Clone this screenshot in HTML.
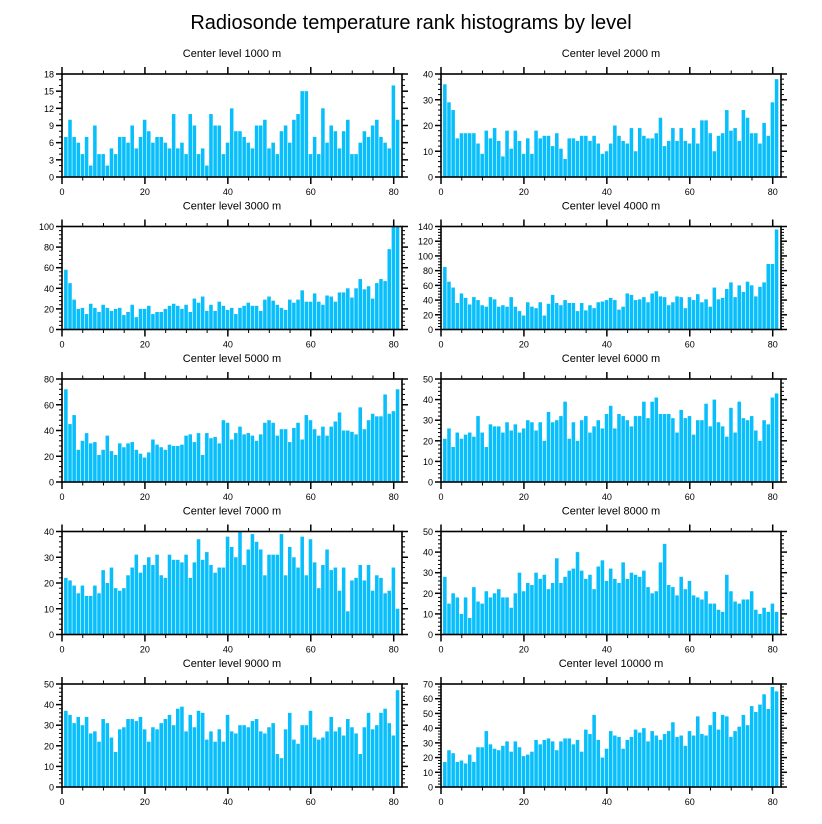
<!DOCTYPE html>
<html><head><meta charset="utf-8"><style>
body{margin:0;background:#fff;}
svg{display:block;font-family:"Liberation Sans",sans-serif;}
</style></head><body>
<svg id="chart" width="822" height="824" viewBox="0 0 822 824">
<text x="411" y="29" text-anchor="middle" font-size="20">Radiosonde temperature rank histograms by level</text>
</svg>
<script>
const levels = [1000,2000,3000,4000,5000,6000,7000,8000,9000,10000];
const yMaxes = [18,40,100,140,80,50,40,50,50,70];
const ySteps = [3,10,20,20,20,10,10,10,10,10];
const xTicks = [0,20,40,60,80];
const s1000 = [7,10,7,6,4,7,2,9,4,4,2,5,4,7,7,6,9,5,7,10,8,6,7,7,6,5,11,5,6,4,11,9,4,5,2,11,9,9,4,6,12,8,8,7,6,5,9,9,10,5,6,4,8,9,6,10,11,15,15,4,7,4,12,6,9,8,5,8,10,4,4,6,8,7,9,10,7,6,5,16,10];
const s2000 = [36,29,26,15,17,17,17,17,13,9,18,15,19,14,8,18,11,18,14,9,15,9,18,15,16,16,12,17,11,7,15,15,14,16,16,14,16,13,9,10,13,20,16,14,13,19,10,19,16,15,15,17,23,12,14,19,14,19,14,13,19,13,22,22,17,10,16,17,26,18,19,14,26,23,17,17,13,21,16,29,38];
const s3000 = [58,45,29,20,21,15,25,21,17,24,21,18,20,21,14,17,24,12,20,20,23,15,17,17,20,23,25,23,20,24,17,30,26,32,18,24,18,27,23,19,21,15,21,23,26,23,23,18,29,32,28,24,21,19,29,26,29,38,27,27,35,27,24,33,32,27,36,36,40,31,40,49,39,42,30,45,49,47,78,100,100].slice(0,81);
const s4000 = [85,65,57,36,49,43,34,44,40,33,31,44,41,31,33,31,44,31,25,19,37,31,29,37,19,35,47,36,33,40,36,36,25,36,26,33,29,37,38,40,43,40,27,31,49,47,40,41,44,37,49,52,45,44,33,37,45,44,29,44,40,48,37,41,31,57,41,43,55,64,44,60,51,65,60,45,58,64,89,89,136];
const s5000 = [72,45,52,25,32,38,30,31,21,25,36,24,21,30,27,30,31,25,22,19,23,33,29,27,25,29,28,28,29,36,37,31,38,21,38,34,35,30,48,46,33,38,43,37,38,36,32,37,46,48,46,36,41,41,31,42,46,33,52,48,41,36,43,36,43,47,54,40,40,39,37,58,41,48,53,51,51,68,53,55,72];
const s6000 = [21,26,17,24,21,23,24,22,32,24,17,28,27,27,24,29,25,28,24,26,30,29,25,29,20,34,29,30,32,39,21,29,20,30,32,24,27,30,26,33,37,26,33,32,30,27,32,32,39,31,39,41,33,33,33,31,24,35,31,32,23,30,30,38,27,40,29,27,22,36,24,39,31,30,32,25,20,30,28,41,43];
const s7000 = [22,21,19,16,19,15,15,19,16,25,20,26,18,17,18,23,26,31,24,27,30,27,31,23,22,31,29,29,28,31,22,28,37,29,32,27,24,26,26,38,34,30,40,27,33,39,36,33,23,31,31,31,39,23,34,30,26,38,23,37,28,18,27,33,25,26,17,26,9,21,22,27,21,27,17,23,22,16,17,26,10];
const s8000 = [28,15,20,18,10,18,8,23,16,15,21,18,20,22,18,18,13,20,30,21,25,24,30,27,29,22,25,37,25,28,31,32,40,31,27,29,22,33,36,26,32,27,25,35,27,30,29,28,31,23,20,21,35,44,24,23,19,28,22,26,19,18,17,21,15,15,12,11,29,21,16,15,17,17,21,12,10,13,11,15,11];
const s9000 = [37,35,31,34,30,34,26,27,22,33,31,24,17,28,29,33,33,32,34,28,22,29,28,31,33,35,30,38,39,27,35,29,37,36,23,27,22,28,22,35,27,26,30,30,29,32,33,27,26,29,31,16,14,28,36,23,21,30,30,37,24,23,24,27,34,27,29,25,33,29,26,16,29,36,28,30,36,38,31,25,47];
const s10000 = [17,25,23,17,18,16,22,17,27,27,38,29,26,25,28,31,24,31,27,21,22,24,32,29,32,33,31,25,31,33,33,29,32,24,39,36,49,32,20,26,38,35,34,26,32,34,39,37,40,31,38,35,32,36,38,44,34,35,28,38,35,48,36,35,42,51,39,49,48,34,38,41,49,42,55,51,56,63,53,68,65];
const series = [s1000,s2000,s3000,s4000,s5000,s6000,s7000,s8000,s9000,s10000];

const NS = 'http://www.w3.org/2000/svg';
const svg = document.getElementById('chart');
const PW = 340, PH = 103, XMAX = 82;
function mk(tag, attrs, parent){
  const e = document.createElementNS(NS, tag);
  for (const k in attrs) e.setAttribute(k, attrs[k]);
  parent.appendChild(e);
  return e;
}
series.forEach((vals, p) => {
  const col = p % 2, row = Math.floor(p / 2);
  const X0 = col === 0 ? 62 : 441;
  const Y0 = 74 + row * 152.5;
  const ymax = yMaxes[p], ystep = ySteps[p];
  const xs = v => X0 + v / XMAX * PW;
  const ys = v => Y0 + PH - v / ymax * PH;
  const g = mk('g', {}, svg);
  
  
  const t = mk('text', {x: X0 + PW / 2, y: Y0 - 17, 'text-anchor': 'middle', 'font-size': 11}, g);
  
  
  t.textContent = 'Center level ' + levels[p] + ' m';
  vals.forEach((v, i) => {
    const c = i + 1;
    const r = mk('rect', {x: xs(c - 0.5), y: ys(v), width: xs(c + 0.5) - xs(c - 0.5) - 0.6, height: ys(0) - ys(v), fill: '#08bffc'}, g);
    
    
  });
  const fr = mk('rect', {x: X0, y: Y0, width: PW, height: PH, fill: 'none', stroke: '#000', 'stroke-width': 1.6}, g);
  
  
  // x ticks
  for (let v = 0; v <= XMAX; v += 5) {
    const major = v % 20 === 0;
    const L = major ? 7 : 3.5;
    const x = xs(v);
    mk('line', {x1: x, x2: x, y1: Y0 + PH, y2: Y0 + PH + L, stroke: '#000', 'stroke-width': major ? 1.5 : 1}, g);
    mk('line', {x1: x, x2: x, y1: Y0, y2: Y0 - L, stroke: '#000', 'stroke-width': major ? 1.5 : 1}, g);
  }
  xTicks.forEach(v => {
    const l = mk('text', {x: xs(v), y: Y0 + PH + 18, 'text-anchor': 'middle', 'font-size': 9}, g);
    
    
    l.textContent = v;
  });
  // y ticks
  const minor = ystep / (ystep === 3 ? 3 : 5);
  for (let k = 0; k * minor <= ymax + 1e-9; k++) {
    const v = k * minor;
    const major = Math.abs(v / ystep - Math.round(v / ystep)) < 1e-6;
    const L = major ? 6 : 3;
    const y = ys(v);
    mk('line', {x1: X0, x2: X0 - L, y1: y, y2: y, stroke: '#000', 'stroke-width': major ? 1.5 : 1}, g);
    mk('line', {x1: X0 + PW, x2: X0 + PW + L, y1: y, y2: y, stroke: '#000', 'stroke-width': major ? 1.5 : 1}, g);
    if (major) {
      const l = mk('text', {x: X0 - 8, y: y + 3.5, 'text-anchor': 'end', 'font-size': 9}, g);
      
      
      l.textContent = Math.round(v);
    }
  }
});
</script>
</body></html>
